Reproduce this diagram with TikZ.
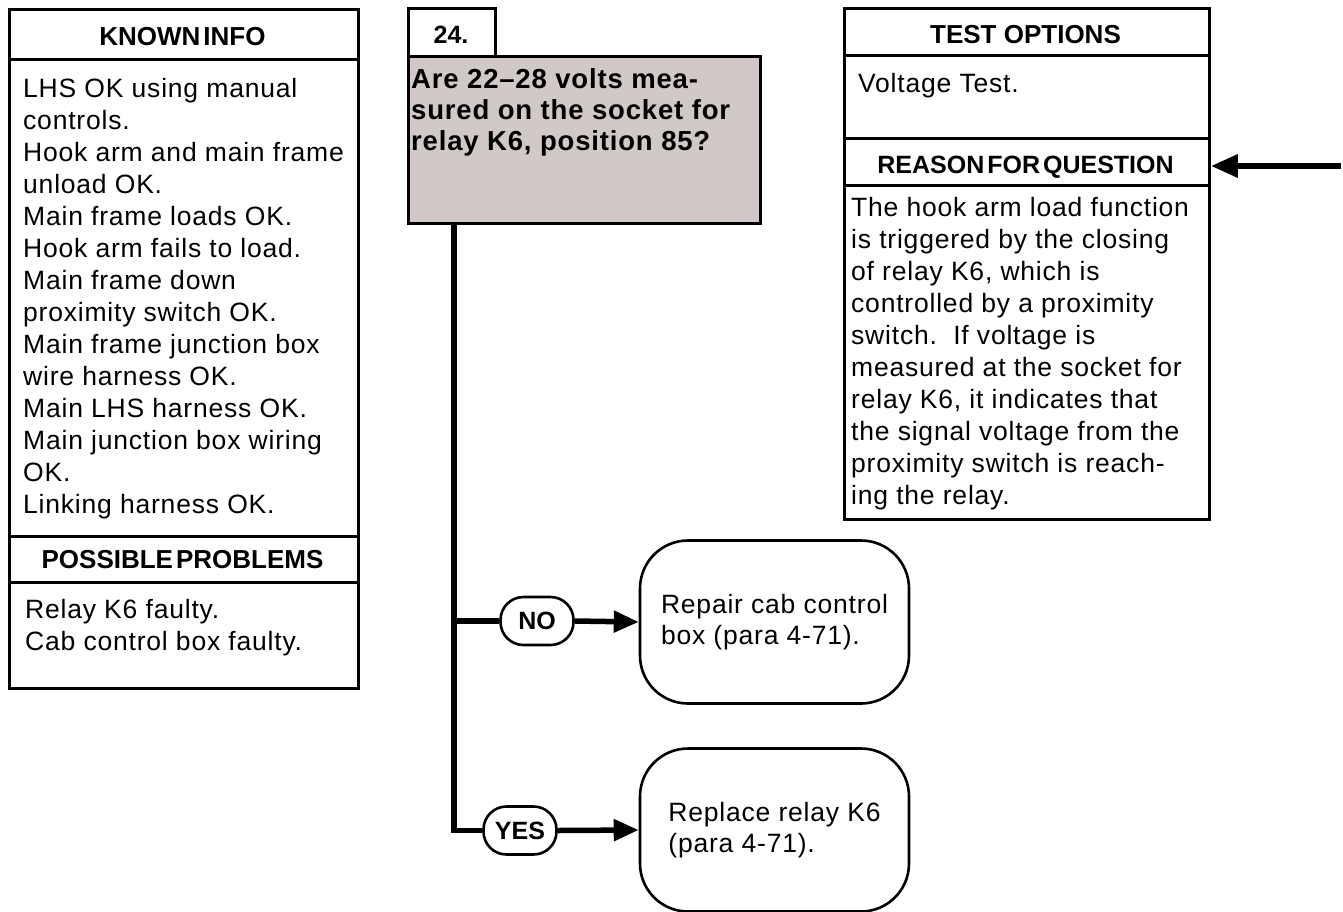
\documentclass[tikz,border=0pt]{standalone}
\usepackage{fontspec}
\setmainfont{Liberation Sans}
\newfontfamily\bodyf[LetterSpace=3]{Liberation Sans}
\newfontfamily\qf[LetterSpace=3]{Liberation Sans}
\usetikzlibrary{arrows.meta}
\definecolor{qgray}{RGB}{209,201,199}
\begin{document}
\begin{tikzpicture}[x=1pt,y=-1pt,
  frame/.style={draw, line width=2.8pt, inner sep=0pt, anchor=north west},
  hdr/.style={font=\fontsize{26}{30}\selectfont\bfseries, anchor=base, inner sep=0pt},
  body/.style={font=\bodyf\fontsize{26.5}{32}\selectfont, align=left, anchor=north west, inner sep=0pt},
  qtext/.style={font=\qf\bfseries\fontsize{27.5}{31}\selectfont, align=left, anchor=north west, inner sep=0pt},
  pill/.style={draw, line width=2.6pt, rounded corners=23pt, minimum width=73pt, minimum height=48pt, inner sep=0pt, font=\bfseries\fontsize{25}{28}\selectfont},
  endbox/.style={draw, line width=2.6pt, rounded corners=48pt, minimum width=269pt, minimum height=163pt, inner sep=0pt, align=left, font=\bodyf\fontsize{26.5}{31}\selectfont},
  flow/.style={line width=5.5pt, line join=miter},
  arr/.style={line width=5.5pt, -{Triangle[length=25pt,width=21pt]}},
  rarr/.style={line width=6pt, -{Triangle[length=27pt,width=22pt]}}
]
\useasboundingbox (0,0) rectangle (1343,911);

% ---- left column ----
\node[frame, minimum width=349pt, minimum height=679pt] (kframe) at (8,8) {};
\node[frame, minimum width=349pt, minimum height=50pt] (khead) at (8,8) {};
\node[frame, minimum width=349pt, minimum height=46pt] (phead) at (8,535) {};
\node[hdr] (ktitle) at (182.5,45) {KNOWN\hspace{3pt}INFO};
\node[hdr] (ptitle) at (182.5,568) {POSSIBLE\hspace{3pt}PROBLEMS};
\node[body] (ktext) at (23,74.6) {\strut LHS OK using manual\\controls.\\Hook arm and main frame\\unload OK.\\Main frame loads OK.\\Hook arm fails to load.\\Main frame down\\proximity switch OK.\\Main frame junction box\\wire harness OK.\\Main LHS harness OK.\\Main junction box wiring\\OK.\\Linking harness OK.};
\node[body] (ptext) at (25,595.6) {\strut Relay K6 faulty.\\Cab control box faulty.};

% ---- question ----
\node[frame, minimum width=87pt, minimum height=48pt] (num) at (407,7) {};
\node[hdr, font=\fontsize{25}{30}\selectfont\bfseries] (numt) at (451,43) {24.};
\node[frame, fill=qgray, minimum width=352pt, minimum height=167pt] (q) at (407,55) {};
\node[qtext] (qt) at (411,66.3) {\strut Are 22–28 volts mea-\\sured on the socket for\\relay K6, position 85?};

% ---- right column ----
\node[frame, minimum width=365pt, minimum height=511pt] (rframe) at (843,7) {};
\node[frame, minimum width=365pt, minimum height=47pt] (thead) at (843,7) {};
\node[frame, minimum width=365pt, minimum height=47pt] (rhead) at (843,137) {};
\node[hdr] (ttitle) at (1025.5,43.5) {TEST OPTIONS};
\node[hdr, font=\fontsize{25}{30}\selectfont\bfseries] (rtitle) at (1025.5,173) {REASON\hspace{3pt}FOR\hspace{3pt}QUESTION};
\node[body] (ttext) at (858,69.6) {\strut Voltage Test.};
\node[body] (rtext) at (851,193.6) {\strut The hook arm load function\\is triggered by the closing\\of relay K6, which is\\controlled by a proximity\\switch.\ \ If voltage is\\measured at the socket for\\relay K6, it indicates that\\the signal voltage from the\\proximity switch is reach-\\ing the relay.};

% ---- branches ----
\node[pill] (no) at (537,621) {NO};
\node[pill] (yes) at (520,830.5) {YES};
\node[endbox] (repair) at (774.5,622) {Repair cab control\\box (para 4-71).};
\node[endbox] (replace) at (774.5,830) {Replace relay K6\\(para 4-71).};

\coordinate (trunktop) at ([xshift=47pt]q.south west);
\coordinate (jno) at (trunktop |- no.west);
\coordinate (jyes) at (trunktop |- yes.west);
\draw[flow] (trunktop) -- (jyes) -- (yes.west);
\draw[flow] (jno) -- (no.west);
\draw[arr] (no.east) -- (repair.west);
\draw[arr] (yes.east) -- (replace.west);

\coordinate (rin) at (1341,166);
\draw[rarr] (rin) -- (rin -| rframe.east);
\end{tikzpicture}
\end{document}
